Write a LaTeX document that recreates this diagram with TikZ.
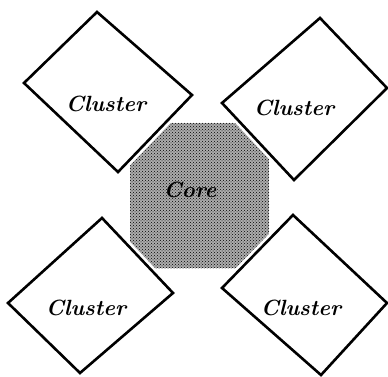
\documentclass[tikz,border=0pt]{standalone}
\usetikzlibrary{patterns}
\begin{document}
\begin{tikzpicture}[x=1pt,y=-1pt,
  cluster/.style={draw=black, line width=2.6pt, fill=white, line join=miter},
  halo/.style={draw=white, line width=8pt, line join=miter},
  corebox/.style={draw=none, minimum width=139pt, minimum height=145pt, inner sep=0pt,
    preaction={fill=gray!65}, pattern=crosshatch dots},
  lbl/.style={font=\fontsize{22}{22}\selectfont\bfseries\itshape, inner sep=0pt}]
\useasboundingbox (0,0) rectangle (388,377);
\fill[white] (0,0) rectangle (388,377);
% core
\node[corebox] (core) at (199.5,195.5) {};
% cluster outlines (corners)
\coordinate (a1) at (97,12);  \coordinate (a2) at (192,95);  \coordinate (a3) at (118,172); \coordinate (a4) at (24,83);
\coordinate (b1) at (320,18); \coordinate (b2) at (387,88);  \coordinate (b3) at (294,180); \coordinate (b4) at (222,103);
\coordinate (c1) at (102,218);\coordinate (c2) at (173,293); \coordinate (c3) at (80,373);  \coordinate (c4) at (8,303);
\coordinate (d1) at (293,215);\coordinate (d2) at (387,303); \coordinate (d3) at (321,375); \coordinate (d4) at (222,288);
\foreach \p in {a,b,c,d}{
  \draw[halo] (\p1) -- (\p2) -- (\p3) -- (\p4) -- cycle;
  \draw[cluster] (\p1) -- (\p2) -- (\p3) -- (\p4) -- cycle;
}
\node[lbl] (ltl) at (106,104) {Cluster};
\node[lbl] (ltr) at (294,108) {Cluster};
\node[lbl] (lbl1) at (86,308) {Cluster};
\node[lbl] (lbr) at (301,308) {Cluster};
\node[lbl] (corelbl) at (190,190) {Core};
\end{tikzpicture}
\end{document}
